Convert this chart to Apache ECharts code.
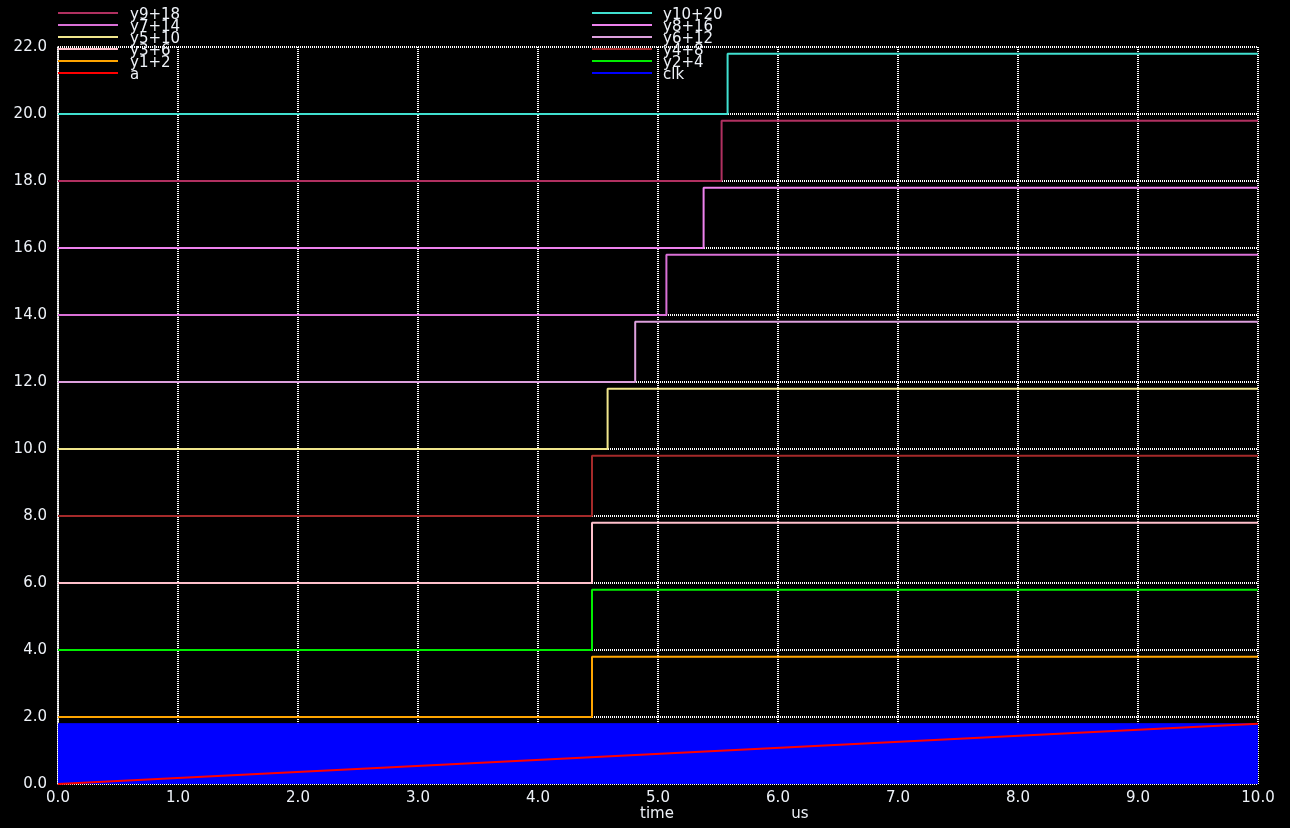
<!DOCTYPE html>
<html>
<head>
<meta charset="utf-8">
<script src="https://cdn.jsdelivr.net/npm/echarts@6/dist/echarts.min.js"></script>
<style>html,body{margin:0;padding:0;background:#000;}#c{width:1290px;height:828px;}</style>
</head>
<body>
<div id="c"></div>
<script>
// Signal names (legend order: left column top->bottom, right column top->bottom)
const leftNames = ['y9+18', 'y7+14', 'y5+10', 'y3+6', 'y1+2', 'a'];
const rightNames = ['y10+20', 'y8+16', 'y6+12', 'y4+8', 'y2+4', 'clk'];
// Step signals y1..y10: offset, switching time (us), low/high levels
const stepNames = ['y1+2', 'y2+4', 'y3+6', 'y4+8', 'y5+10', 'y6+12', 'y7+14', 'y8+16', 'y9+18', 'y10+20'];
const stepOffsets = [2, 4, 6, 8, 10, 12, 14, 16, 18, 20];
const stepTimes = [4.45, 4.45, 4.45, 4.45, 4.58, 4.81, 5.07, 5.38, 5.53, 5.58];
const stepLow = 0.0;
const stepHigh = 1.8;
const stepColors = ['#ffa500', '#00ee00', '#ffc0cb', '#a52a2a', '#f0e68c', '#dda0dd', '#da70d6', '#ee82ee', '#b03060', '#40e0d0'];
// a: ramp
const aTimes = [0, 10];
const aValues = [0, 1.8];
// clk: toggles too fast to resolve; drawn as its filled envelope
const clkTimes = [0, 10];
const clkValues = [1.8, 1.8];
// Axes
const xTicks = [0, 1, 2, 3, 4, 5, 6, 7, 8, 9, 10];
const yTicks = [0, 2, 4, 6, 8, 10, 12, 14, 16, 18, 20, 22];

const colorMap = {};
stepNames.forEach((n, i) => colorMap[n] = stepColors[i]);
colorMap['a'] = '#ff0000';
colorMap['clk'] = '#0000ff';

const series = [];
series.push({
  name: 'clk', type: 'line', symbol: 'none', animation: false,
  data: clkTimes.map((t, i) => [t, clkValues[i]]),
  lineStyle: { color: '#0000ff', width: 1 },
  areaStyle: { color: '#0000ff', opacity: 1, origin: 'start' }
});
series.push({
  name: 'a', type: 'line', symbol: 'none', animation: false,
  data: aTimes.map((t, i) => [t, aValues[i]]),
  lineStyle: { color: '#ff0000', width: 2 }
});
stepNames.forEach((n, i) => {
  const off = stepOffsets[i], t = stepTimes[i];
  series.push({
    name: n, type: 'line', symbol: 'none', animation: false,
    data: [[0, off + stepLow], [t, off + stepLow], [t, off + stepHigh], [xTicks[xTicks.length - 1], off + stepHigh]],
    lineStyle: { color: stepColors[i], width: 2 }
  });
});

const graphics = [];
const font = '15px "DejaVu Sans"';
function legendCol(names, x0, x1, tx) {
  names.forEach((n, i) => {
    const y = 13 + i * 12;
    graphics.push({ type: 'line', shape: { x1: x0, y1: y, x2: x1, y2: y }, style: { stroke: colorMap[n], lineWidth: 2 }, z: 10 });
    graphics.push({ type: 'text', x: tx, y: y + 2, style: { text: n, fill: '#eef2f8', font: font, textVerticalAlign: 'middle' }, z: 10 });
  });
}
legendCol(leftNames, 58, 118, 130);
legendCol(rightNames, 592, 652, 663);
graphics.push({ type: 'text', x: 657, y: 814, style: { text: 'time', fill: '#eef2f8', font: font, textAlign: 'center', textVerticalAlign: 'middle' } });
graphics.push({ type: 'text', x: 800, y: 814, style: { text: 'us', fill: '#eef2f8', font: font, textAlign: 'center', textVerticalAlign: 'middle' } });

const chart = echarts.init(document.getElementById('c'), null, { renderer: 'canvas' });
chart.setOption({
  backgroundColor: '#000000',
  animation: false,
  grid: { left: 58, right: 32, top: 47, bottom: 44, containLabel: false },
  xAxis: {
    type: 'value', min: xTicks[0], max: xTicks[xTicks.length - 1], interval: 1,
    axisLine: { show: false }, axisTick: { show: false },
    axisLabel: { color: '#eef2f8', fontFamily: 'DejaVu Sans', fontSize: 15, margin: 7, formatter: v => v.toFixed(1) },
    splitLine: { show: true, lineStyle: { color: '#ffffff', type: [1, 1], width: 2 } }
  },
  yAxis: {
    type: 'value', min: yTicks[0], max: yTicks[yTicks.length - 1], interval: 2,
    axisLine: { show: true, onZero: false, lineStyle: { color: '#ffffff', width: 1.5 } }, axisTick: { show: false },
    axisLabel: { color: '#eef2f8', fontFamily: 'DejaVu Sans', fontSize: 15, margin: 11, formatter: v => v.toFixed(1) },
    splitLine: { show: true, lineStyle: { color: '#ffffff', type: [1, 1], width: 2 } }
  },
  series: series,
  graphic: graphics
});
</script>
</body>
</html>
